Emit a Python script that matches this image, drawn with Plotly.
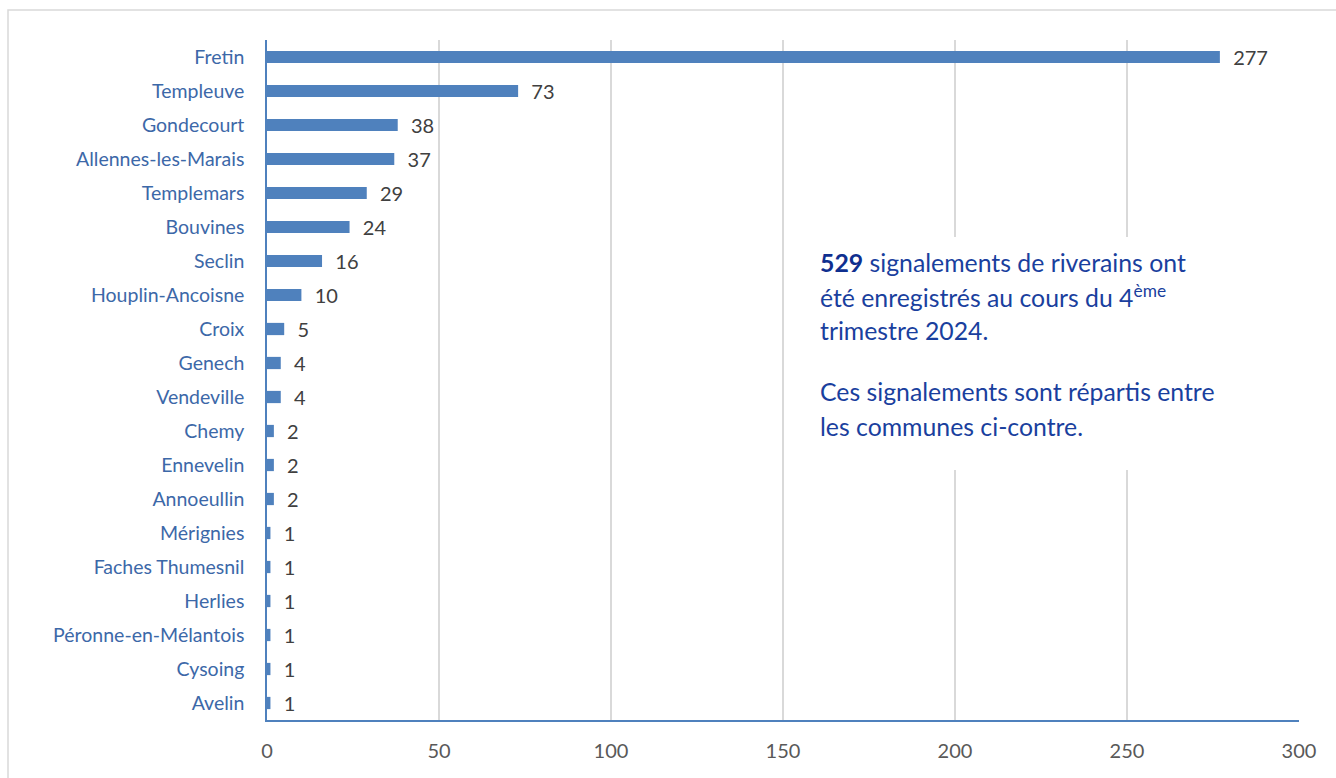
import plotly.graph_objects as go

communes = ["Fretin", "Templeuve", "Gondecourt", "Allennes-les-Marais", "Templemars",
            "Bouvines", "Seclin", "Houplin-Ancoisne", "Croix", "Genech", "Vendeville",
            "Chemy", "Ennevelin", "Annoeullin", "Mérignies", "Faches Thumesnil",
            "Herlies", "Péronne-en-Mélantois", "Cysoing", "Avelin"]
signalements = [277, 73, 38, 37, 29, 24, 16, 10, 5, 4, 4, 2, 2, 2, 1, 1, 1, 1, 1, 1]
x_ticks = [0, 50, 100, 150, 200, 250, 300]

W, H = 1336, 778
L, R, T, B = 267, 1299, 40, 720
pw, ph = R - L, B - T

def px(x):
    return (x - L) / pw

def py(y):
    return (B - y) / ph

FONT = "Lato"
BAR = "#4f81bd"

fig = go.Figure(go.Bar(
    x=signalements, y=communes, orientation="h",
    marker=dict(color=BAR, line=dict(width=0)),
    width=0.36,
    text=signalements,
    texttemplate="\u00a0\u00a0%{x}",
    textposition="outside",
    constraintext="none",
    textfont=dict(family=FONT, size=20, color="#404040"),
    cliponaxis=False,
))

fig.update_layout(
    width=W, height=H,
    margin=dict(l=L, r=W - R, t=T, b=H - B),
    paper_bgcolor="white", plot_bgcolor="white",
    showlegend=False,
    font=dict(family=FONT),
    xaxis=dict(range=[0, 300], tickvals=x_ticks, showgrid=True, gridcolor="#d9d9d9",
               gridwidth=1.5, zeroline=False, showline=True, linecolor=BAR, linewidth=1.5,
               tickfont=dict(family=FONT, size=20, color="#595959"), ticks="",
               ticklabelstandoff=12, fixedrange=True),
    yaxis=dict(autorange="reversed", showgrid=False, zeroline=False, showline=True,
               linecolor=BAR, linewidth=1.5, ticks="",
               tickfont=dict(family=FONT, size=19.5, color="#3c68a8"),
               ticklabelstandoff=17, fixedrange=True),
    shapes=[
        dict(type="rect", xref="paper", yref="paper",
             x0=px(8), x1=px(1350), y0=py(800), y1=py(10),
             line=dict(color="#d9d9d9", width=1.5), fillcolor="rgba(0,0,0,0)", layer="below"),
        dict(type="rect", xref="paper", yref="paper",
             x0=px(805), x1=px(1235), y0=py(470), y1=py(237),
             line=dict(width=0), fillcolor="white", layer="above"),
    ],
)

lines = [
    (262, "<b style='color:#0f2f8f'>529</b> signalements de riverains ont"),
    (296, "été enregistrés au cours du 4<sup>ème</sup>"),
    (330, "trimestre 2024."),
    (392, "Ces signalements sont répartis entre"),
    (426, "les communes ci-contre."),
]
for y, t in lines:
    fig.add_annotation(xref="paper", yref="paper", x=px(818), y=py(y), text=t,
                       showarrow=False, xanchor="left", yanchor="middle",
                       font=dict(family=FONT, size=24.8, color="#1a3f9e"))

fig.write_html("out.html")
